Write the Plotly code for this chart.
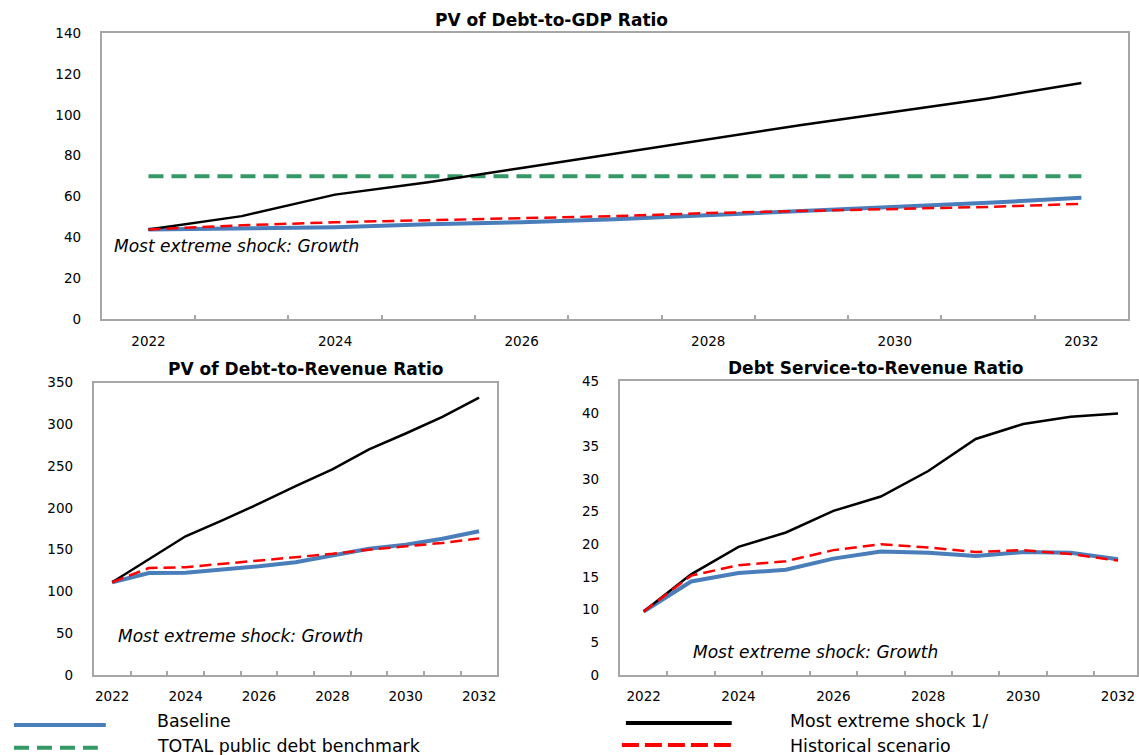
import plotly.graph_objects as go

W, H = 1139, 772
years = list(range(2022, 2033))
tick_years = [2022, 2024, 2026, 2028, 2030, 2032]
boundaries = [y + 0.5 for y in range(2022, 2032)]

# PV of Debt-to-GDP Ratio
gdp_baseline = [44, 44.3, 45, 46.5, 47.5, 49, 51, 53, 55, 57, 59.5]
gdp_benchmark = [70] * 11
gdp_shock = [44, 50.5, 61, 67, 74, 81, 88, 95, 101.5, 108, 115.5]
gdp_hist = [44, 46, 47.5, 48.5, 49.5, 50.5, 52, 53, 54, 55, 56.5]

# PV of Debt-to-Revenue Ratio
rev_baseline = [111, 122, 122.5, 126, 130, 135, 143.5, 151, 156, 163, 172]
rev_shock = [111, 139, 166, 185, 205, 226, 246, 270, 289, 309, 332]
rev_hist = [111, 128, 129, 133, 137, 141, 145, 150, 154, 158, 163.5]

# Debt Service-to-Revenue Ratio
ds_baseline = [9.7, 14.3, 15.6, 16.1, 17.8, 18.9, 18.7, 18.2, 18.8, 18.7, 17.7]
ds_shock = [9.7, 15.4, 19.6, 21.8, 25.1, 27.3, 31.2, 36.1, 38.4, 39.5, 40.0]
ds_hist = [9.7, 15.2, 16.8, 17.4, 19.1, 20.0, 19.5, 18.8, 19.1, 18.5, 17.5]

titles = ["PV of Debt-to-GDP Ratio", "PV of Debt-to-Revenue Ratio", "Debt Service-to-Revenue Ratio"]
legend_names = ["Baseline", "TOTAL public debt benchmark", "Most extreme shock 1/", "Historical scenario"]
note = "Most extreme shock: Growth"

BLUE = "#4A7EBB"
GREEN = "#349966"
RED = "#FF0000"
BLACK = "#000000"
AXIS = "#A6A6A6"
FONT = "DejaVu Sans"

# vertical placement correction observed in the rendered picture
Y_OFF, Y_SC = 7.4, 0.9787

def px_x(p):
    return p / W

def px_y(p):
    return 1 - ((p - Y_OFF) / Y_SC) / H

fig = go.Figure()

def add_set(xa, ya, base, shock, hist, bench=None):
    fig.add_trace(go.Scatter(x=years, y=base, mode="lines", line=dict(color=BLUE, width=4),
                             xaxis=xa, yaxis=ya, showlegend=False))
    if bench is not None:
        fig.add_trace(go.Scatter(x=years, y=bench, mode="lines",
                                 line=dict(color=GREEN, width=4, dash="15px,8px"),
                                 xaxis=xa, yaxis=ya, showlegend=False))
    fig.add_trace(go.Scatter(x=years, y=shock, mode="lines", line=dict(color=BLACK, width=2.5),
                             xaxis=xa, yaxis=ya, showlegend=False))
    fig.add_trace(go.Scatter(x=years, y=hist, mode="lines",
                             line=dict(color=RED, width=2.5, dash="12px,6px"),
                             xaxis=xa, yaxis=ya, showlegend=False))

add_set("x", "y", gdp_baseline, gdp_shock, gdp_hist, gdp_benchmark)
add_set("x2", "y2", rev_baseline, rev_shock, rev_hist)
add_set("x3", "y3", ds_baseline, ds_shock, ds_hist)

def xaxis(domain, rng):
    return dict(domain=domain, range=rng, showgrid=False, zeroline=False,
                showline=True, linecolor=AXIS, linewidth=2, mirror=True,
                tickvals=tick_years, ticktext=[str(y) for y in tick_years], ticks="",
                ticklabelstandoff=8,
                minor=dict(tickvals=boundaries, ticks="inside", ticklen=4, tickcolor=AXIS, tickwidth=1.5),
                tickfont=dict(family=FONT, size=13.5, color="#000"))

def yaxis(domain, rng, dtick):
    return dict(domain=domain, range=rng, dtick=dtick, showgrid=False, zeroline=False,
                showline=True, linecolor=AXIS, linewidth=2, mirror=True, ticks="",
                ticklabelstandoff=16,
                tickfont=dict(family=FONT, size=13.5, color="#000"))

fig.update_layout(
    width=W, height=H, margin=dict(l=0, r=0, t=0, b=0),
    paper_bgcolor="white", plot_bgcolor="white", showlegend=False,
    xaxis=dict(xaxis([px_x(102), px_x(1130)], [2021.5, 2032.5]), anchor="y"),
    yaxis=dict(yaxis([px_y(318.7), px_y(32.3)], [0, 140], 20), anchor="x"),
    xaxis2=dict(xaxis([px_x(94), px_x(498.3)], [2021.5, 2032.5]), anchor="y2"),
    yaxis2=dict(yaxis([px_y(674), px_y(381.7)], [0, 350], 50), anchor="x2"),
    xaxis3=dict(xaxis([px_x(621), 1.0], [2021.5, 2032.4]), anchor="y3"),
    yaxis3=dict(yaxis([px_y(674), px_y(380)], [0, 45], 5), anchor="x3"),
)

ann = []
for t, cx, cy in zip(titles, [552.5, 306.5, 878], [19, 368, 367]):
    ann.append(dict(text="<b>" + t + "</b>", x=px_x(cx), y=px_y(cy), xref="paper", yref="paper",
                    xanchor="center", yanchor="middle", showarrow=False,
                    font=dict(family=FONT, size=17, color="#000")))
for lx, cy in [(112, 245), (116, 635), (692.5, 651)]:
    ann.append(dict(text="<i>" + note + "</i>", x=px_x(lx), y=px_y(cy), xref="paper", yref="paper",
                    xanchor="left", yanchor="middle", showarrow=False,
                    font=dict(family=FONT, size=17, color="#000")))
for name, lx, cy in zip(legend_names, [155.5, 155.5, 789, 789], [720, 745, 720, 745]):
    ann.append(dict(text=name, x=px_x(lx), y=px_y(cy), xref="paper", yref="paper",
                    xanchor="left", yanchor="middle", showarrow=False,
                    font=dict(family=FONT, size=17.4, color="#000")))
fig.update_layout(annotations=ann)

# legend samples
legend_lines = [
    (14, 106, 724, BLUE, 4, "solid"),
    (14, 98, 746.7, GREEN, 4, "15px,8px"),
    (627, 733, 722, BLACK, 4, "solid"),
    (623, 735, 744, RED, 4, "17px,6px"),
]
shapes = []
for x0, x1, yy, c, w, d in legend_lines:
    shapes.append(dict(type="line", xref="paper", yref="paper", x0=px_x(x0), x1=px_x(x1),
                       y0=px_y(yy), y1=px_y(yy), line=dict(color=c, width=w, dash=d)))
fig.update_layout(shapes=shapes)

fig.write_html("out.html")
